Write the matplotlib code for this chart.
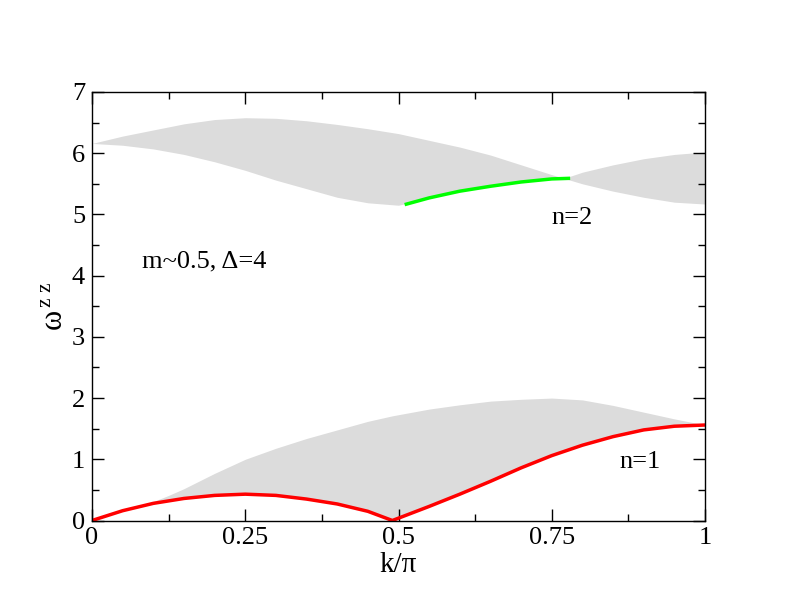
import numpy as np
import matplotlib
matplotlib.use("Agg")
import matplotlib.pyplot as plt
from matplotlib.ticker import MultipleLocator, FixedLocator, FixedFormatter

plt.rcParams['font.family'] = ['Liberation Serif', 'DejaVu Serif']
plt.rcParams['mathtext.fontset'] = 'custom'
plt.rcParams['mathtext.rm'] = 'Liberation Serif'
plt.rcParams['mathtext.it'] = 'Liberation Serif'

# lower continuum (n=1 branch is its lower edge)
k_low = [0, 0.025, 0.05, 0.075, 0.1, 0.125, 0.15, 0.2, 0.25, 0.3, 0.35, 0.4, 0.45, 0.49,
         0.55, 0.6, 0.65, 0.7, 0.75, 0.8, 0.85, 0.9, 0.95, 1.0]
low_top = [0, 0.08, 0.17, 0.24, 0.31, 0.41, 0.52, 0.77, 1.0, 1.18, 1.34, 1.48, 1.62, 1.71,
           1.82, 1.89, 1.95, 1.98, 2.0, 1.97, 1.88, 1.77, 1.66, 1.56]
n1 = [0, 0.08, 0.16, 0.22, 0.28, 0.32, 0.36, 0.41, 0.43, 0.41, 0.35, 0.27, 0.15, 0.0,
      0.23, 0.43, 0.64, 0.86, 1.06, 1.23, 1.37, 1.48, 1.54, 1.56]

# upper continuum: two edges crossing near k=0.77
k_up = [0, 0.05, 0.1, 0.15, 0.2, 0.25, 0.3, 0.35, 0.4, 0.45, 0.5,
        0.55, 0.6, 0.65, 0.7, 0.75, 0.77, 0.8, 0.85, 0.9, 0.95, 1.0]
up_a = [6.16, 6.28, 6.38, 6.48, 6.55, 6.58, 6.57, 6.53, 6.47, 6.40, 6.32,
        6.21, 6.10, 5.97, 5.81, 5.65, 5.59, 5.50, 5.38, 5.28, 5.20, 5.17]
up_b = [6.16, 6.13, 6.07, 5.98, 5.86, 5.72, 5.56, 5.42, 5.28, 5.19, 5.15,
        5.27, 5.38, 5.46, 5.53, 5.58, 5.59, 5.69, 5.81, 5.91, 5.98, 6.02]

# n=2 branch
k_n2 = [0.51, 0.55, 0.6, 0.65, 0.7, 0.75, 0.78]
n2 = [5.16, 5.27, 5.38, 5.46, 5.53, 5.58, 5.59]

xticks = [0, 0.25, 0.5, 0.75, 1]
xticklabels = ['0', '0.25', '0.5', '0.75', '1']

fig = plt.figure(figsize=(7.92, 6.12), dpi=100)
ax = fig.add_axes([92/792, 1 - 520.5/612, 613/792, 428.5/612])

gray = '#dcdcdc'
ax.fill_between(k_low, n1, low_top, color=gray, lw=0)
a = np.array(up_a)
b = np.array(up_b)
ax.fill_between(k_up, np.minimum(a, b), np.maximum(a, b), color=gray, lw=0)

ax.plot(k_low, n1, color='#ff0000', lw=2.5, solid_capstyle='butt')
ax.plot(k_n2, n2, color='#00ff00', lw=2.5, solid_capstyle='butt')

ax.set_xlim(0, 1)
ax.set_ylim(0, 7)
ax.xaxis.set_major_locator(FixedLocator(xticks))
ax.xaxis.set_major_formatter(FixedFormatter(xticklabels))
ax.xaxis.set_minor_locator(MultipleLocator(0.125))
ax.yaxis.set_major_locator(MultipleLocator(1))
ax.yaxis.set_minor_locator(MultipleLocator(0.5))
ax.tick_params(which='both', direction='in', top=True, right=True, width=1.0)
ax.tick_params(which='major', length=8.6, labelsize=19, pad=5)
ax.tick_params(which='minor', length=5)
for s in ax.spines.values():
    s.set_linewidth(1.0)

ax.set_xlabel('k/π', fontsize=21, labelpad=2)
ax.set_ylabel(r'ω$^{\,\mathrm{z\ z}}$', fontsize=22, labelpad=2)

ax.text(0.081, 4.13, 'm~0.5, Δ=4', fontsize=19, ha='left', va='baseline')
ax.text(0.749, 4.84, 'n=2', fontsize=19, ha='left', va='baseline')
ax.text(0.861, 0.85, 'n=1', fontsize=19, ha='left', va='baseline')

fig.savefig('out.png', dpi=100)
